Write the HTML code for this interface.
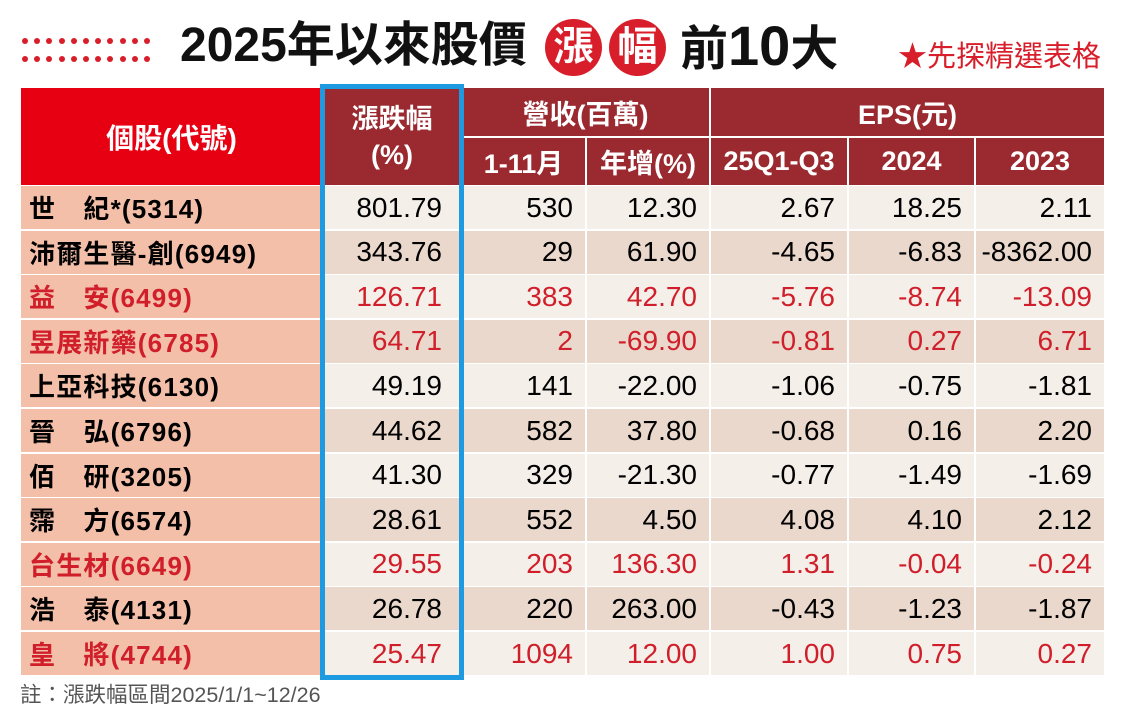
<!DOCTYPE html>
<html><head><meta charset="utf-8">
<style>
body{margin:0;width:1125px;height:718px;background:#fff;overflow:hidden;position:relative;font-family:"Liberation Sans","Noto Sans CJK TC",sans-serif}
.a{position:absolute;box-sizing:border-box}
.h{color:#fff;font-weight:bold;font-size:27px;display:flex;align-items:center;justify-content:center;text-align:center;background:#9a2a30}
.c{font-size:28px;display:flex;align-items:center;justify-content:flex-end;padding-right:12px}
.n{font-size:26px;font-weight:bold;display:flex;align-items:center;padding-left:8px;background:#f4bfa9;letter-spacing:1.2px;white-space:nowrap}
.r{color:#d01e2a}
.dot{position:absolute;width:6px;height:6px;border-radius:50%;background:#d81e2a}
</style></head><body>
<div id="dots"></div>
<div class="a" style="left:180px;top:14px;height:64px;font-size:48px;font-weight:bold;color:#111;white-space:nowrap;line-height:64px">2025年以來股價</div>
<div class="a" style="left:545px;top:19px;width:57px;height:57px;border-radius:50%;background:#d81e2a;color:#fff;font-size:40px;font-weight:bold;text-align:center;line-height:57px">漲</div>
<div class="a" style="left:609px;top:19px;width:57px;height:57px;border-radius:50%;background:#d81e2a;color:#fff;font-size:40px;font-weight:bold;text-align:center;line-height:57px">幅</div>
<div class="a" style="left:680px;top:14px;height:64px;font-size:48px;font-weight:bold;color:#111;white-space:nowrap;line-height:64px">前<span style="font-size:56px">10</span>大</div>
<div class="a" style="left:898px;top:38px;font-size:29px;color:#d81e2a;white-space:nowrap;line-height:38px">★先探精選表格</div>

<div class="a h" style="left:21px;top:88px;width:301px;height:97px;background:#e60012;font-size:28px">個股(代號)</div>
<div class="a h" style="left:322px;top:88px;width:140px;height:97px;line-height:36px">漲跌幅<br>(%)</div>
<div class="a h" style="left:462px;top:88px;width:247px;height:48px">營收(百萬)</div>
<div class="a h" style="left:711px;top:88px;width:393px;height:48px">EPS(元)</div>
<div class="a h" style="left:462px;top:138px;width:123px;height:47px">1-11月</div>
<div class="a h" style="left:587px;top:138px;width:122px;height:47px">年增(%)</div>
<div class="a h" style="left:711px;top:138px;width:136px;height:47px">25Q1-Q3</div>
<div class="a h" style="left:849px;top:138px;width:125px;height:47px">2024</div>
<div class="a h" style="left:976px;top:138px;width:128px;height:47px">2023</div>

<div id="rows"></div>
<div class="a" style="left:320px;top:84px;width:144px;height:596px;border:5px solid #1e9be0"></div>
<div class="a" style="left:20px;top:678px;font-size:21.5px;color:#555;white-space:nowrap">註：漲跌幅區間2025/1/1~12/26</div>
<script>
const names=["世　紀*(5314)","沛爾生醫-創(6949)","益　安(6499)","昱展新藥(6785)","上亞科技(6130)","晉　弘(6796)","佰　研(3205)","霈　方(6574)","台生材(6649)","浩　泰(4131)","皇　將(4744)"];
const changes=["801.79","343.76","126.71","64.71","49.19","44.62","41.30","28.61","29.55","26.78","25.47"];
const revenue=["530","29","383","2","141","582","329","552","203","220","1094"];
const revYoy=["12.30","61.90","42.70","-69.90","-22.00","37.80","-21.30","4.50","136.30","263.00","12.00"];
const eps25=["2.67","-4.65","-5.76","-0.81","-1.06","-0.68","-0.77","4.08","1.31","-0.43","1.00"];
const eps24=["18.25","-6.83","-8.74","0.27","-0.75","0.16","-1.49","4.10","-0.04","-1.23","0.75"];
const eps23=["2.11","-8362.00","-13.09","6.71","-1.81","2.20","-1.69","2.12","-0.24","-1.87","0.27"];
const redRows=[false,false,true,true,false,false,false,false,true,false,true];
const cols=[[322,140,changes],[462,123,revenue],[587,122,revYoy],[711,136,eps25],[849,125,eps24],[976,128,eps23]];
const rows=document.getElementById('rows');
const top0=186,rh=44.6;
names.forEach((nm,i)=>{
  const y=top0+i*rh;
  const d=document.createElement('div');
  d.className='a n'+(redRows[i]?' r':'');
  d.style.cssText=`left:21px;top:${y}px;width:301px;height:${rh-1.5}px`;
  d.textContent=nm;
  
  
  rows.appendChild(d);
  cols.forEach(([x,w,arr],j)=>{
    const c=document.createElement('div');
    c.className='a c'+(redRows[i]?' r':'');
    c.style.cssText=`left:${x}px;top:${y}px;width:${w}px;height:${rh-1.5}px;background:${i%2?'#e9d8cb':'#f5efea'}`+(j==0?';padding-right:20px':'');
    c.textContent=arr[i];
    
    
    rows.appendChild(c);
  });
});
const dots=document.getElementById('dots');
for(let r=0;r<2;r++)for(let k=0;k<11;k++){
  const d=document.createElement('div');
  d.className='dot';
  d.style.left=(22+k*12.2)+'px';d.style.top=(38+r*18)+'px';
  
  
  dots.appendChild(d);
}
</script>
</body></html>
